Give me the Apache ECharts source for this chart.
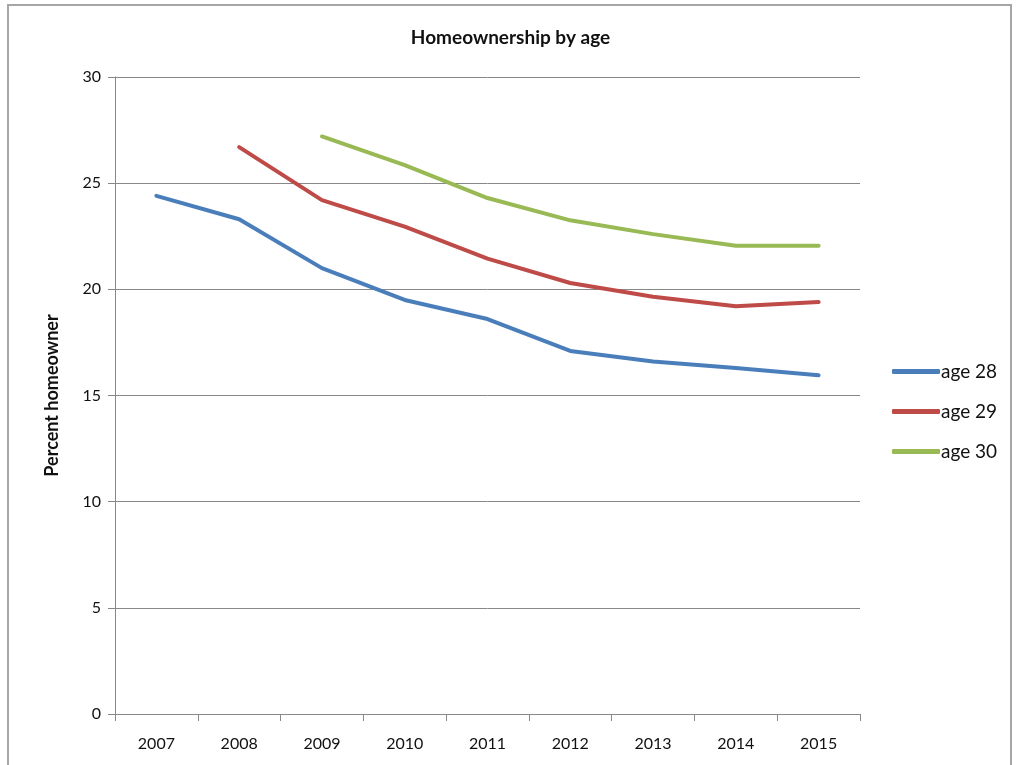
<!DOCTYPE html>
<html>
<head>
<meta charset="utf-8">
<script src="https://cdn.jsdelivr.net/npm/echarts@6/dist/echarts.min.js"></script>
<style>
  html, body { margin: 0; padding: 0; background: #fff; }
  #frame { position: absolute; left: 7px; top: 4px; width: 1005px; height: 780px; border: 2px solid #a6a6a6; box-sizing: border-box; }
  #chart { position: absolute; left: 0; top: 0; width: 1021px; height: 765px; }
</style>
</head>
<body>
<div id="frame"></div>
<div id="chart"></div>
<script>
// years on the x axis
const years = ['2007', '2008', '2009', '2010', '2011', '2012', '2013', '2014', '2015'];
// percent homeowner (null = no data)
const age28 = [24.4, 23.3, 21.0, 19.5, 18.6, 17.1, 16.6, 16.3, 15.95];
const age29 = [null, 26.7, 24.2, 22.95, 21.45, 20.3, 19.65, 19.2, 19.4];
const age30 = [null, null, 27.2, 25.85, 24.3, 23.25, 22.6, 22.05, 22.05];
const seriesNames = ['age 28', 'age 29', 'age 30'];
const colors = ['#4a7ebb', '#be4b48', '#98b954'];

const myChart = echarts.init(document.getElementById('chart'));

const font = 'Lato, "Open Sans", sans-serif';

const option = {
    color: colors,
    title: {
        text: 'Homeownership by age',
        left: 'center',
        top: 23,
        textStyle: { fontFamily: font, fontSize: 19, fontWeight: 'bold', color: '#111' }
    },
    legend: {
        orient: 'vertical',
        left: 892,
        top: 362,
        padding: 0,
        itemWidth: 48,
        itemHeight: 5,
        itemGap: 21,
        icon: 'roundRect',
        data: seriesNames,
        textStyle: { fontFamily: font, fontSize: 19, color: '#111', padding: [0, 0, 0, -4] }
    },
    grid: { left: 115, right: 161, top: 77, bottom: 51, containLabel: false },
    xAxis: {
        type: 'category',
        data: years,
        boundaryGap: true,
        axisLine: { lineStyle: { color: '#888', width: 1 } },
        axisTick: { show: true, length: 7, lineStyle: { color: '#888' } },
        axisLabel: { fontFamily: font, fontSize: 16, color: '#111', margin: 22 }
    },
    yAxis: {
        type: 'value',
        min: 0,
        max: 30,
        interval: 5,
        name: 'Percent homeowner',
        nameLocation: 'middle',
        nameGap: 54,
        nameTextStyle: { fontFamily: font, fontSize: 18, fontWeight: 'bold', color: '#111' },
        axisLine: { show: true, lineStyle: { color: '#888', width: 1 } },
        axisTick: { show: true, length: 7, lineStyle: { color: '#888' } },
        axisLabel: { fontFamily: font, fontSize: 16, color: '#111', margin: 14 },
        splitLine: { lineStyle: { color: '#888', width: 1 } }
    },
    series: [age28, age29, age30].map((d, i) => ({
        name: seriesNames[i],
        type: 'line',
        data: d,
        symbol: 'none',
        lineStyle: { width: 4, cap: 'round', join: 'round' },
        animation: false
    }))
};

myChart.setOption(option);
</script>
</body>
</html>
